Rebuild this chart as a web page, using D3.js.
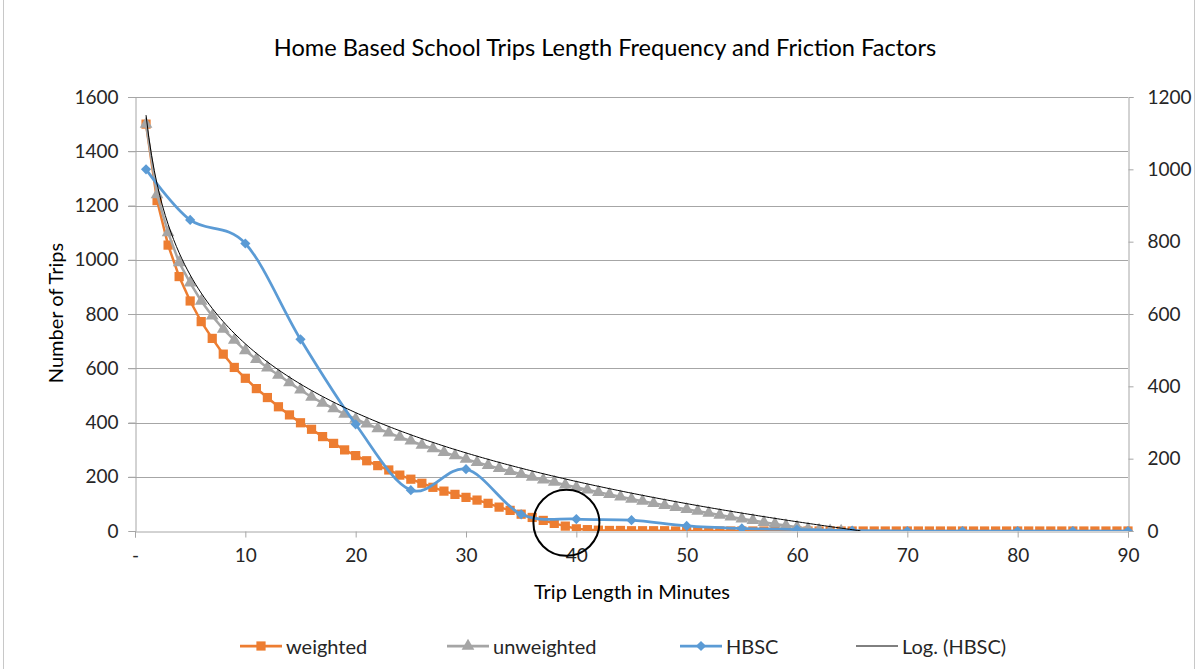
<!DOCTYPE html>
<html>
<head>
<meta charset="utf-8">
<script src="https://cdn.jsdelivr.net/npm/d3@7"></script>
<style>
    body { margin: 0; background: #fff; }
    svg text { font-family: Lato, "Open Sans", sans-serif; }
</style>
</head>
<body>
<div id="chart"></div>
<script>
// weighted trips per minute of trip length (minutes 1..90)
const weighted = [
    1500, 1218, 1054, 938, 848, 772, 710, 652, 603, 563,
    525, 492, 458, 428, 399, 375, 348, 323, 299, 278,
    259, 241, 225, 206, 191, 176, 161, 147, 135, 124,
    114, 102, 88, 76, 62, 50, 39, 28, 18, 8,
    5, 3, 2, 2, 1, 1, 1, 1, 0, 0,
    0, 0, 0, 0, 0, 0, 0, 0, 0, 0,
    0, 0, 0, 0, 0, 0, 0, 0, 0, 0,
    0, 0, 0, 0, 0, 0, 0, 0, 0, 0,
    0, 0, 0, 0, 0, 0, 0, 0, 0, 0
];

// unweighted trips per minute (minutes 1..64)
const unweighted = [
    1500, 1240, 1100, 990, 915, 848, 793, 744, 704, 665,
    633, 602, 575, 547, 520, 494, 472, 451, 431, 413,
    395, 378, 362, 346, 332, 317, 304, 290, 278, 265,
    253, 242, 231, 220, 209, 199, 189, 180, 170, 161,
    152, 143, 135, 126, 118, 110, 102, 95, 87, 80,
    73, 66, 59, 52, 45, 39, 32, 26, 20, 14,
    8, 3, 1, 0
];

// HBSC friction factors (secondary axis)
const hbscMinutes = [1, 5, 10, 15, 20, 25, 30, 35, 40, 45, 50, 55, 60, 65, 70, 75, 80, 85, 90];
const hbscValues = [1000, 860, 795, 530, 295, 113, 171, 46, 33, 30, 14, 7, 4, 1, 0, 0, 0, 0, 0];

// axis ticks
const xTicks = [0, 10, 20, 30, 40, 50, 60, 70, 80, 90];
const leftTicks = [0, 200, 400, 600, 800, 1000, 1200, 1400, 1600];
const rightTicks = [0, 200, 400, 600, 800, 1000, 1200];

const legendNames = ["weighted", "unweighted", "HBSC", "Log. (HBSC)"];

// page setup
const width = 1196;
const height = 669;
const plot = { left: 135, right: 1128, top: 97, bottom: 531 };

const orange = "#ED7D31";
const gray = "#A5A5A5";
const blue = "#5B9BD5";
const gridColor = "#a6a6a6";
const textColor = "#262626";

const svg = d3.select("#chart")
    .append("svg")
    .attr("width", width)
    .attr("height", height);

// outer chart border
svg.append("rect")
    .attr("x", 3.5)
    .attr("y", -10)
    .attr("width", 1191)
    .attr("height", 700)
    .attr("fill", "#fff")
    .attr("stroke", "#c8c8c8");

// scales
const x = d3.scaleLinear().domain([0, 90]).range([plot.left, plot.right]);
const yLeft = d3.scaleLinear().domain([0, 1600]).range([plot.bottom, plot.top]);
const yRight = d3.scaleLinear().domain([0, 1200]).range([plot.bottom, plot.top]);

svg.append("clipPath")
    .attr("id", "plot-clip")
    .append("rect")
    .attr("x", plot.left - 10)
    .attr("y", plot.top - 20)
    .attr("width", plot.right - plot.left + 20)
    .attr("height", plot.bottom - plot.top + 20);

// gridlines
svg.append("g")
    .selectAll("line")
    .data(leftTicks.slice(1))
    .enter()
    .append("line")
    .attr("x1", plot.left - 7)
    .attr("x2", plot.right)
    .attr("y1", d => Math.round(yLeft(d)) + 0.5)
    .attr("y2", d => Math.round(yLeft(d)) + 0.5)
    .attr("stroke", gridColor);

// axis tick label styling
function styleAxis(g) {
    g.select(".domain").attr("stroke", gridColor);
    g.selectAll(".tick line").attr("stroke", gridColor);
    g.selectAll("text")
        .attr("font-size", "19px")
        .attr("fill", textColor)
        .style("font-family", "Lato");
}

// left axis
svg.append("g")
    .attr("transform", `translate(${plot.left + 0.5},0)`)
    .call(d3.axisLeft(yLeft).tickValues(leftTicks).tickSize(7).tickPadding(10).tickFormat(d3.format("d")))
    .call(styleAxis);

// right axis
svg.append("g")
    .attr("transform", `translate(${plot.right + 0.5},0)`)
    .call(d3.axisRight(yRight).tickValues(rightTicks).tickSize(5).tickPadding(14).tickFormat(d3.format("d")))
    .call(styleAxis);

// bottom axis
svg.append("g")
    .attr("transform", `translate(0,${plot.bottom + 0.5})`)
    .call(d3.axisBottom(x).tickValues(xTicks).tickSize(6).tickPadding(11).tickFormat(d => d === 0 ? "-" : d))
    .call(styleAxis);

// series group, clipped to the plot area
const series = svg.append("g").attr("clip-path", "url(#plot-clip)");

const weightedPts = weighted.map((v, i) => ({ x: i + 1, y: v }));
const unweightedPts = unweighted.map((v, i) => ({ x: i + 1, y: v }));
const hbscPts = hbscMinutes.map((m, i) => ({ x: m, y: hbscValues[i] }));

const square = d3.symbol().type(d3.symbolSquare).size(85);
const triangle = d3.symbol().type(d3.symbolTriangle).size(70);
const diamond = d3.symbol().type(d3.symbolSquare).size(52); // rotated 45deg below

// weighted
series.append("path")
    .datum(weightedPts)
    .attr("fill", "none")
    .attr("stroke", orange)
    .attr("stroke-width", 2.5)
    .attr("d", d3.line().x(d => x(d.x)).y(d => yLeft(d.y)));
series.append("g")
    .selectAll("path")
    .data(weightedPts)
    .enter()
    .append("path")
    .attr("d", square)
    .attr("transform", d => `translate(${x(d.x)},${yLeft(d.y)})`)
    .attr("fill", orange);

// unweighted
series.append("path")
    .datum(unweightedPts)
    .attr("fill", "none")
    .attr("stroke", gray)
    .attr("stroke-width", 2.5)
    .attr("d", d3.line().x(d => x(d.x)).y(d => yLeft(d.y)));
series.append("g")
    .selectAll("path")
    .data(unweightedPts)
    .enter()
    .append("path")
    .attr("d", triangle)
    .attr("transform", d => `translate(${x(d.x)},${yLeft(d.y)})`)
    .attr("fill", gray);

// HBSC (smoothed, secondary axis)
series.append("path")
    .datum(hbscPts)
    .attr("fill", "none")
    .attr("stroke", blue)
    .attr("stroke-width", 2.75)
    .attr("d", d3.line().curve(d3.curveCatmullRom.alpha(0)).x(d => x(d.x)).y(d => yRight(d.y)));
series.append("g")
    .selectAll("path")
    .data(hbscPts)
    .enter()
    .append("path")
    .attr("d", diamond)
    .attr("transform", d => `translate(${x(d.x)},${yRight(d.y)}) rotate(45)`)
    .attr("fill", blue);

// logarithmic trendline of HBSC: y = a ln(x) + b (least squares)
const lnX = hbscMinutes.map(m => Math.log(m));
const meanL = d3.mean(lnX);
const meanY = d3.mean(hbscValues);
const slope = d3.sum(lnX, (l, i) => (l - meanL) * (hbscValues[i] - meanY)) / d3.sum(lnX, l => (l - meanL) ** 2);
const intercept = meanY - slope * meanL;
const trendPts = d3.range(1, 90.01, 0.25)
    .map(m => ({ x: m, y: intercept + slope * Math.log(m) }))
    .filter(d => d.y >= 0);

series.append("path")
    .datum(trendPts)
    .attr("fill", "none")
    .attr("stroke", "#000")
    .attr("stroke-width", 1)
    .attr("d", d3.line().x(d => x(d.x)).y(d => yRight(d.y)));

// circle annotation around minute ~39
svg.append("circle")
    .attr("cx", x(39.1))
    .attr("cy", yLeft(30))
    .attr("r", 33)
    .attr("fill", "none")
    .attr("stroke", "#000")
    .attr("stroke-width", 2);

// title
svg.append("text")
    .attr("x", 605)
    .attr("y", 47)
    .attr("text-anchor", "middle")
    .attr("dominant-baseline", "central")
    .attr("font-size", "23.6px")
    .attr("fill", "#000")
    .text("Home Based School Trips Length Frequency and Friction Factors");

// axis titles
svg.append("text")
    .attr("transform", "translate(55,313) rotate(-90)")
    .attr("text-anchor", "middle")
    .attr("dominant-baseline", "central")
    .attr("font-size", "20px")
    .attr("fill", "#000")
    .text("Number of Trips");

svg.append("text")
    .attr("x", 632)
    .attr("y", 591)
    .attr("text-anchor", "middle")
    .attr("dominant-baseline", "central")
    .attr("font-size", "20px")
    .attr("fill", "#000")
    .text("Trip Length in Minutes");

// legend
const legendY = 646;
const legendItems = [
    { name: legendNames[0], x: 240, color: orange, marker: square, rot: 0, width: 2.75 },
    { name: legendNames[1], x: 447, color: gray, marker: triangle, rot: 0, width: 2.75 },
    { name: legendNames[2], x: 680, color: blue, marker: diamond, rot: 45, width: 2.75 },
    { name: legendNames[3], x: 856, color: "#000", marker: null, rot: 0, width: 1 }
];

const legend = svg.append("g");
legendItems.forEach(item => {
    legend.append("line")
        .attr("x1", item.x)
        .attr("x2", item.x + 42)
        .attr("y1", legendY)
        .attr("y2", legendY)
        .attr("stroke", item.color)
        .attr("stroke-width", item.width);
    if (item.marker) {
        legend.append("path")
            .attr("d", item.marker)
            .attr("transform", `translate(${item.x + 21},${legendY}) rotate(${item.rot})`)
            .attr("fill", item.color);
    }
    legend.append("text")
        .attr("x", item.x + 46)
        .attr("y", legendY)
        .attr("dominant-baseline", "central")
        .attr("font-size", "20px")
        .attr("fill", textColor)
        .text(item.name);
});
</script>
</body>
</html>
